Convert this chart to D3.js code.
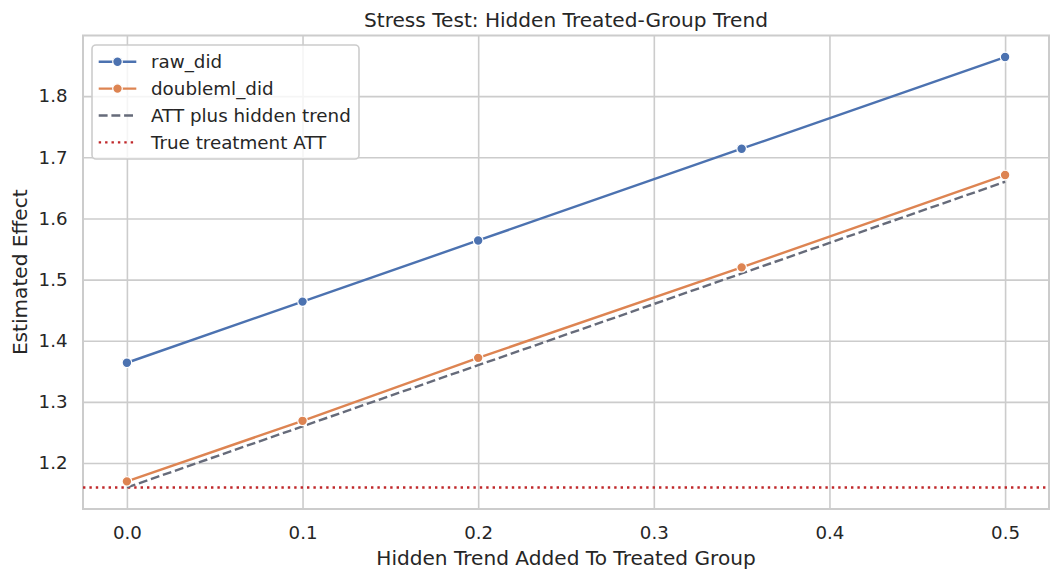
<!DOCTYPE html>
<html>
<head>
<meta charset="utf-8">
<script src="https://cdn.jsdelivr.net/npm/d3@7"></script>
<style>
  html, body { margin: 0; padding: 0; background: #fff; }
  svg { display: block; font-family: "DejaVu Sans", sans-serif; }
</style>
</head>
<body>
<svg id="chart" width="1060" height="580"></svg>
<script>
// ---- data ----
const trendAdded = [0.0, 0.1, 0.2, 0.35, 0.5];
const rawDid = [1.364, 1.464, 1.564, 1.714, 1.864];
const doublemlDid = [1.170, 1.269, 1.372, 1.520, 1.671];
const attPlusTrend = [1.160, 1.260, 1.360, 1.510, 1.660];
const trueATT = 1.160;
const xTicks = [0.0, 0.1, 0.2, 0.3, 0.4, 0.5];
const yTicks = [1.2, 1.3, 1.4, 1.5, 1.6, 1.7, 1.8];
const seriesNames = ["raw_did", "doubleml_did", "ATT plus hidden trend", "True treatment ATT"];

const title = "Stress Test: Hidden Treated-Group Trend";
const xLabel = "Hidden Trend Added To Treated Group";
const yLabel = "Estimated Effect";

// ---- layout ----
const W = 1060, H = 580;
const L = 83, R = 1049, T = 35.5, B = 509;
const textColor = "#262626";
const gridColor = "#cccccc";
const blue = "#4c72b0", orange = "#dd8452", gray = "#666b7a", red = "#c0282b";
const tickFont = "18.2px", labelFont = "20.1px", legendFont = "18.3px";

const svg = d3.select("#chart");

const allY = rawDid.concat(doublemlDid, attPlusTrend, [trueATT]);
const yMin = d3.min(allY), yMax = d3.max(allY);
const yPad = (yMax - yMin) * 0.05;
const x = d3.scaleLinear().domain([-0.025, 0.525]).range([L, R]);
const y = d3.scaleLinear().domain([yMin - yPad, yMax + yPad]).range([B, T]);

// grid
const gx = svg.append("g").attr("transform", `translate(0,${B})`)
  .call(d3.axisBottom(x).tickValues(xTicks).tickSize(-(B - T)).tickFormat(""));
gx.select(".domain").remove();
gx.selectAll("line").attr("stroke", gridColor).attr("stroke-width", 1.6);

const gy = svg.append("g").attr("transform", `translate(${L},0)`)
  .call(d3.axisLeft(y).tickValues(yTicks).tickSize(-(R - L)).tickFormat(""));
gy.select(".domain").remove();
gy.selectAll("line").attr("stroke", gridColor).attr("stroke-width", 1.6);

// spines
svg.append("rect").attr("x", L).attr("y", T).attr("width", R - L).attr("height", B - T)
  .attr("fill", "none").attr("stroke", gridColor).attr("stroke-width", 2);

// tick labels
const ax = svg.append("g").attr("transform", `translate(0,${B})`)
  .call(d3.axisBottom(x).tickValues(xTicks).tickSize(0).tickPadding(17).tickFormat(d3.format(".1f")));
ax.select(".domain").remove();
ax.selectAll("text").attr("fill", textColor).attr("font-size", tickFont)
  .attr("font-family", "DejaVu Sans");

const ay = svg.append("g").attr("transform", `translate(${L},0)`)
  .call(d3.axisLeft(y).tickValues(yTicks).tickSize(0).tickPadding(15.5).tickFormat(d3.format(".1f")));
ay.select(".domain").remove();
ay.selectAll("text").attr("fill", textColor).attr("font-size", tickFont)
  .attr("font-family", "DejaVu Sans");

// lines
const line = d3.line().x(d => x(d[0])).y(d => y(d[1]));
const zip = (a, b) => a.map((v, i) => [v, b[i]]);

// true ATT horizontal
svg.append("line")
  .attr("x1", L).attr("x2", R).attr("y1", y(trueATT)).attr("y2", y(trueATT))
  .attr("stroke", red).attr("stroke-width", 2.4).attr("stroke-dasharray", "2.4,4");

svg.append("path").datum(zip(trendAdded, attPlusTrend)).attr("d", line)
  .attr("fill", "none").attr("stroke", gray).attr("stroke-width", 2.4)
  .attr("stroke-dasharray", "8.9,3.8");

const series = [
  { vals: rawDid, color: blue },
  { vals: doublemlDid, color: orange }
];
series.forEach(s => {
  const pts = zip(trendAdded, s.vals);
  svg.append("path").datum(pts).attr("d", line)
    .attr("fill", "none").attr("stroke", s.color).attr("stroke-width", 2.4);
  svg.append("g").selectAll("circle").data(pts).join("circle")
    .attr("cx", d => x(d[0])).attr("cy", d => y(d[1])).attr("r", 4.8)
    .attr("fill", s.color).attr("stroke", "#fff").attr("stroke-width", 1.2);
});

// title & labels
svg.append("text").attr("x", (L + R) / 2).attr("y", 27).attr("text-anchor", "middle")
  .attr("font-size", labelFont).attr("fill", textColor).text(title);
svg.append("text").attr("x", (L + R) / 2).attr("y", 565).attr("text-anchor", "middle")
  .attr("font-size", labelFont).attr("fill", textColor).text(xLabel);
svg.append("text").attr("transform", `translate(26.5,${(T + B) / 2}) rotate(-90)`)
  .attr("text-anchor", "middle")
  .attr("font-size", labelFont).attr("fill", textColor).text(yLabel);

// legend
const lg = svg.append("g");
lg.append("rect").attr("x", 92).attr("y", 45).attr("width", 267).attr("height", 114)
  .attr("rx", 4).attr("fill", "#fff").attr("fill-opacity", 0.8)
  .attr("stroke", gridColor).attr("stroke-width", 1.6);
const legendItems = [
  { name: seriesNames[0], color: blue, dash: null, marker: true },
  { name: seriesNames[1], color: orange, dash: null, marker: true },
  { name: seriesNames[2], color: gray, dash: "8.9,3.8", marker: false },
  { name: seriesNames[3], color: red, dash: "2.4,4", marker: false }
];
legendItems.forEach((it, i) => {
  const cy = 61.7 + i * 26.9;
  const l = lg.append("line").attr("x1", 98.7).attr("x2", 136.3).attr("y1", cy).attr("y2", cy)
    .attr("stroke", it.color).attr("stroke-width", 2.4);
  if (it.dash) l.attr("stroke-dasharray", it.dash);
  if (it.marker) {
    lg.append("circle").attr("cx", 117.5).attr("cy", cy).attr("r", 4.8)
      .attr("fill", it.color).attr("stroke", "#fff").attr("stroke-width", 1.2);
  }
  lg.append("text").attr("x", 151).attr("y", cy + 6.6)
    .attr("font-size", legendFont).attr("fill", textColor).text(it.name);
});
</script>
</body>
</html>
